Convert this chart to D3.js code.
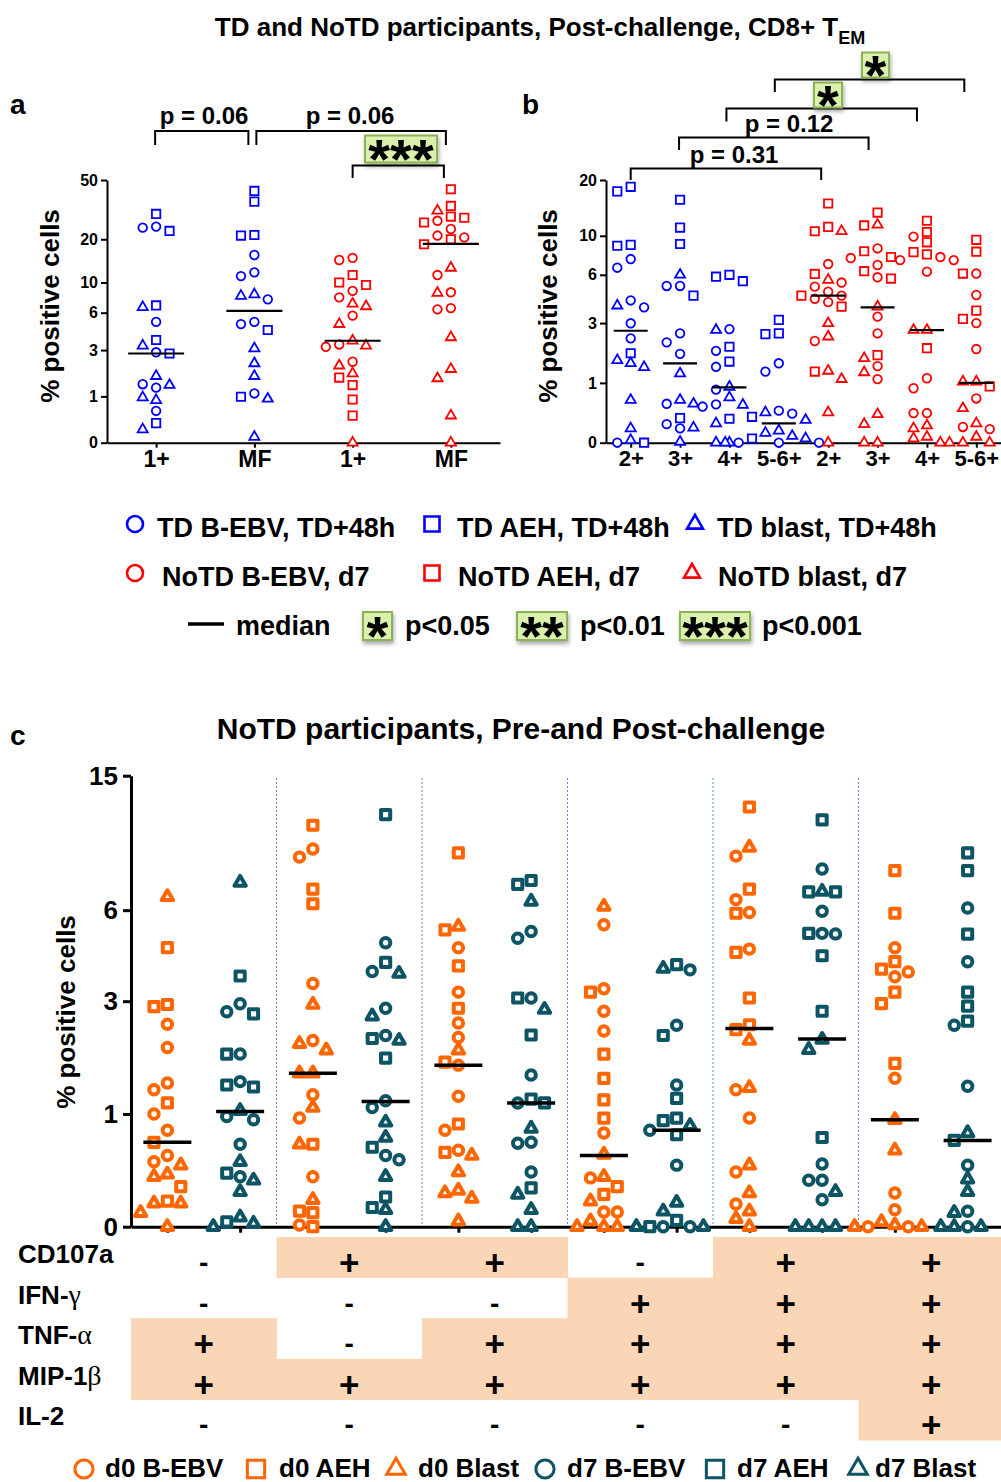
<!DOCTYPE html>
<html>
<head>
<meta charset="utf-8">
<script src="https://cdn.jsdelivr.net/npm/d3@7"></script>
<style>
body { margin: 0; background: #fff; }
svg text { font-family: "Liberation Sans", Arial, sans-serif; font-weight: bold; fill: #000; }
</style>
</head>
<body>
<svg id="chart" width="1001" height="1482"></svg>
<script>
// ---- panel a: TD / NoTD, 1+ and MF ----
var aCats = ["1+", "MF", "1+", "MF"];
var aGroups = ["TD", "TD", "NoTD", "NoTD"];
var aEbv = [[24.4, 24, 5.1, 2.87, 1.4, 1.28, 0.61], [15.6, 11.8, 11.1, 7.55, 5.1, 4.9, 1.09],
            [14.9, 14.4, 8.7, 7.8, 5.7, 3.35, 3.2, 2.36], [26.7, 23.5, 21.2, 20.6, 11.3, 8.5, 6.5, 6.36]];
var aAeh = [[29.7, 22.8, 6.8, 3.65, 2.8, 0.34], [42.3, 35.9, 21.4, 21.2, 4.4, 0.99],
            [11.3, 10, 9.6, 1.65, 1.37, 0.91, 0.5], [43.4, 33.6, 28.5, 28, 26, 20, 18.5]];
var aBlast = [[6.6, 3.27, 1.71, 1.37, 0.97, 0.89, 0.22], [8.2, 8, 3.1, 2.28, 1.71, 0.93, 0.09],
              [7, 6.7, 4.9, 3.6, 3.27, 2.17, 1.82, 0], [31.2, 12.7, 8.4, 3.84, 2.01, 1.62, 0.5, 0]];
var aMedian = [2.8, 6.2, 3.6, 18.6];
var aTicks = [0, 1, 3, 6, 10, 20, 50];

// ---- panel b: 2+ .. 5-6+ ----
var bCats = ["2+", "3+", "4+", "5-6+", "2+", "3+", "4+", "5-6+"];
var bGroups = ["TD", "TD", "TD", "TD", "NoTD", "NoTD", "NoTD", "NoTD"];
var bEbv = [[7.4, 6.6, 4.2, 3.8, 2.99, 2.35, 0], [5.15, 5.15, 2.55, 2.2, 1.8, 0.57, 0.24, 0.18],
            [2.73, 1.9, 1.41, 0.85, 0.56, 0.52], [1.51, 1.28, 0.45, 0.4, 0, 0, 0],
            [6.93, 5.4, 5.1, 4.75, 4.5, 4.3, 4.1, 2.25], [8.5, 7.5, 6.84, 5.8, 3.31, 2.55, 1.43, 1.09],
            [9.9, 7.6, 7.3, 7.3, 6.26, 1.11, 0.88, 0.41, 0.41], [6.1, 4.54, 3, 1.96, 0.67, 0.2, 0.17]];
var bAeh = [[18.4, 17.4, 8.9, 8.8, 1.82, 0], [15.7, 11.1, 9, 4.5, 0.33],
            [6, 5.85, 5.5, 2.04, 1.56, 0.32], [3.15, 2.55, 2.52, 0.35, 0.05],
            [15, 11.2, 10.6, 6.07, 4.5, 3.84, 1.28], [13.4, 11.4, 8.2, 7.6, 6.3, 5.7, 1.76],
            [12.1, 10.5, 9.2, 8.1, 7.87, 1.99], [9.5, 8.15, 6.1, 3.62, 3.2, 0.92]];
var bBlast = [[3.9, 1.6, 1.51, 1.4, 0.64, 0.18, 0.03], [6, 1.23, 0.64, 0.57, 0.19, 0.01],
              [2.69, 0.91, 0.69, 0.55, 0.25, 0, 0], [0.42, 0.3, 0.15, 0.12, 0.08, 0.05, 0],
              [10.6, 5.6, 2.99, 2.42, 1.3, 1.09, 0.42, 0], [11.5, 3.84, 1.66, 1.26, 0.39, 0.24, 0, 0],
              [2.69, 2.69, 0.22, 0.18, 0.07, 0.05, 0], [1.03, 1.03, 0.49, 0.25, 0.07, 0, 0, 0]];
var bMedian = [2.66, 1.51, 0.9, 0.25, 4.5, 3.8, 2.69, 1.0];
var bTicks = [0, 1, 3, 6, 10, 20];

// ---- panel c: NoTD, d0 vs d7, by function pattern ----
var cDays = ["d0", "d7", "d0", "d7", "d0", "d7", "d0", "d7", "d0", "d7", "d0", "d7"];
var cEbv = [[2.47, 2.01, 1.42, 1.32, 1.0, 0.81, 0.55, 0.49], [2.94, 2.75, 1.89, 1.44, 0.97, 0.93, 0.66, 0.36],
            [9.2, 8.7, 3.46, 2.14, 1.25, 0.95, 0.36, 0.01], [4.73, 3.8, 2.83, 2.24, 1.17, 1.08, 0.55, 0.51],
            [4.56, 3.23, 2.5, 2.2, 1.7, 1.23, 0.81, 0.6], [5.14, 4.89, 3.08, 1.54, 1.14, 0.68, 0.67, 0.4],
            [5.4, 3.32, 2.76, 2.33, 0.78, 0.35, 0.095, 0.095], [3.85, 2.45, 1.39, 0.81, 0.46, 0, 0],
            [8.76, 6.47, 5.9, 4.51, 1.32, 0.95, 0.4, 0.15], [8.02, 5.95, 5.07, 5.05, 0.47, 0.33, 0.33, 0.18],
            [4.56, 3.79, 3.65, 1.49, 0.23, 0.11, 0, 0], [6.09, 4.1, 2.45, 1.37, 0.46, 0.1, 0]];
var cAeh = [[4.56, 2.92, 2.87, 1.14, 0.68, 0.28, 0.17], [3.67, 2.7, 1.89, 1.39, 1.36, 0.39, 0.03],
            [10.8, 6.97, 6.28, 0.66, 0.1, 0.09, 0], [11.6, 4.08, 2.18, 1.82, 0.63, 0.2, 0.125],
            [8.96, 5.2, 3.97, 2.83, 1.75, 0.88, 0.58], [7.4, 7.2, 3.08, 2.25, 1.19, 1.14, 0.27],
            [3.23, 1.89, 1.49, 1.18, 0.95, 0.28, 0.22], [4.01, 2.24, 1.2, 0.95, 0.92, 0.76, 0.04, 0],
            [12.2, 6.97, 5.87, 4.4, 3.08, 2.46, 2.36], [11.2, 6.83, 6.83, 5.07, 4.29, 2.76, 0.73],
            [7.93, 5.87, 4.1, 3.87, 3.23, 2.94, 1.73], [8.96, 7.93, 5.04, 3.23, 2.88, 2.54, 0.7]];
var cBlast = [[6.6, 0.46, 0.38, 0.36, 0.155, 0.155, 0.09, 0], [7.3, 1.04, 0.49, 0.33, 0.24, 0.06, 0.02, 0],
              [2.92, 2.08, 1.96, 1.57, 1.57, 1.08, 0.66, 0.18], [3.74, 2.65, 2.14, 0.9, 0.73, 0.36, 0.11, 0],
              [5.33, 1.96, 0.55, 0.4, 0.25, 0.23, 0.19, 0.035], [6.39, 2.8, 0.83, 0.22, 0.11, 0, 0],
              [6.16, 0.56, 0.36, 0.17, 0.035, 0, 0, 0], [3.89, 0.86, 0.16, 0.1, 0, 0],
              [9.3, 2.14, 1.35, 0.46, 0.23, 0.1, 0.05, 0], [6.85, 2.16, 1.97, 0.24, 0, 0, 0, 0],
              [0.93, 0.6, 0.03, 0.01, 0, 0], [0.78, 0.34, 0.24, 0.09, 0, 0, 0]];
var cMedian = [0.68, 1.03, 1.57, 1.16, 1.7, 1.14, 0.55, 0.81, 2.38, 2.17, 0.93, 0.7];
var cTicks = [0, 1, 3, 6, 15];

// function table under panel c (one entry per d0/d7 pair)
var cRowLabels = ["CD107a", "IFN-γ", "TNF-α", "MIP-1β", "IL-2"];
var cCD107a = ["-", "+", "+", "-", "+", "+"];
var cIFNg = ["-", "-", "-", "+", "+", "+"];
var cTNFa = ["+", "-", "+", "+", "+", "+"];
var cMIP1b = ["+", "+", "+", "+", "+", "+"];
var cIL2 = ["-", "-", "-", "-", "-", "+"];

var colTD = "#0000ff", colNoTD = "#ff0000", colD0 = "#ff6600", colD7 = "#0d5465";

var svg = d3.select("#chart");

// drop shadow for the significance boxes
var defs = svg.append("defs");
var f = defs.append("filter").attr("id", "shadow").attr("x", "-30%").attr("y", "-30%").attr("width", "160%").attr("height", "180%");
f.append("feDropShadow").attr("dx", 1).attr("dy", 3).attr("stdDeviation", 2).attr("flood-color", "#000").attr("flood-opacity", 0.35);

var symbolTypes = { circle: d3.symbolCircle, square: d3.symbolSquare, triangle: d3.symbolTriangle };
function symPath(shape, size) {
    return d3.symbol().type(symbolTypes[shape]).size(size)();
}

// spread points sideways so they don't sit on top of each other
function dodge(pts, y, cx, step, box) {
    var placed = [];
    pts.sort(function(a, b){ return b.v - a.v; });
    pts.forEach(function(p){
        p.y = y(p.v);
        for (var k = 0; k < 20; k++) {
            var off = k == 0 ? 0 : (k % 2 ? -Math.ceil(k / 2) : Math.ceil(k / 2));
            var x = cx + off * step;
            var hit = placed.some(function(q){
                return Math.abs(q.x - x) < box && Math.abs(q.y - p.y) < box;
            });
            if (!hit) { p.x = x; break; }
        }
        if (p.x === undefined) p.x = cx;
        placed.push(p);
    });
    return pts;
}

function drawDots(g, o) {
    o.cats.forEach(function(c, i){
        var pts = [];
        o.series.forEach(function(s){
            s.data[i].forEach(function(v){ pts.push({ v: v, shape: s.shape }); });
        });
        dodge(pts, o.y, o.x(i), o.step, o.box);
        g.append("g").selectAll("path").data(pts).enter().append("path")
            .attr("d", function(d){ return symPath(d.shape, o.sizes[d.shape]); })
            .attr("transform", function(d){ return "translate(" + d.x + "," + d.y + ")"; })
            .attr("fill", "#fff")
            .attr("stroke", o.color(i))
            .attr("stroke-width", o.sw)
            .attr("stroke-linejoin", o.join || "miter");
    });
    // medians on top
    g.append("g").selectAll("line").data(o.medians).enter().append("line")
        .attr("x1", function(d, i){ return o.x(i) - o.medW / 2; })
        .attr("x2", function(d, i){ return o.x(i) + o.medW / 2; })
        .attr("y1", function(d){ return o.y(d); })
        .attr("y2", function(d){ return o.y(d); })
        .attr("stroke", "#000").attr("stroke-width", o.medSW);
}

function styleAxis(ax, sw, fs) {
    ax.selectAll("path, line").attr("stroke", "#000").attr("stroke-width", sw);
    ax.selectAll("text").style("font-size", fs + "px").attr("fill", "#000");
}

function bracket(g, x1, x2, yTop, yLeg) {
    g.append("path")
        .attr("d", "M" + x1 + "," + yLeg + "V" + yTop + "H" + x2 + "V" + yLeg)
        .attr("fill", "none").attr("stroke", "#000").attr("stroke-width", 2);
}

function sigBox(g, cx, cy, w, h, n) {
    g.append("rect").attr("x", cx - w / 2).attr("y", cy - h / 2).attr("width", w).attr("height", h)
        .attr("fill", "#d9f1ad").attr("stroke", "#8db157").attr("stroke-width", 2)
        .attr("filter", "url(#shadow)");
    g.append("text").attr("x", cx).attr("y", cy + 29).attr("text-anchor", "middle")
        .style("font-size", "56px")
        .text("*".repeat(n));
}

function yLabel(x, y) {
    svg.append("text").attr("transform", "translate(" + x + "," + y + ") rotate(-90)")
        .attr("text-anchor", "middle").style("font-size", "26px").text("% positive cells");
}

// ---- titles ----
var title = svg.append("text").attr("x", 540).attr("y", 36).attr("text-anchor", "middle").style("font-size", "26px");
title.append("tspan").text("TD and NoTD participants, Post-challenge, CD8+ T");
title.append("tspan").attr("dy", 8).style("font-size", "18px").text("EM");

svg.append("text").attr("x", 10).attr("y", 114).style("font-size", "28px").text("a");
svg.append("text").attr("x", 522).attr("y", 114).style("font-size", "28px").text("b");
svg.append("text").attr("x", 10).attr("y", 745).style("font-size", "28px").text("c");

// ---- panel a ----
var xa = d3.scalePoint().domain(d3.range(aCats.length)).range([107, 500]).padding(0.5);
var ya = d3.scaleSymlog().constant(1).domain([0, 50]).range([442.7, 180]);
var gA = svg.append("g");
var axA = gA.append("g").attr("transform", "translate(107,0)")
    .call(d3.axisLeft(ya).tickValues(aTicks).tickFormat(d3.format("d")).tickSize(6).tickSizeOuter(0));
styleAxis(axA, 2, 16);
var axAx = gA.append("g").attr("transform", "translate(0,442.7)")
    .call(d3.axisBottom(xa).tickFormat(function(i){ return aCats[i]; }).tickSize(5).tickSizeOuter(0));
styleAxis(axAx, 2, 23);
drawDots(gA, {
    cats: aCats, medians: aMedian, x: xa, y: ya,
    series: [{ shape: "circle", data: aEbv }, { shape: "square", data: aAeh }, { shape: "triangle", data: aBlast }],
    color: function(i){ return aGroups[i] == "TD" ? colTD : colNoTD; },
    sizes: { circle: 58, square: 70, triangle: 44 }, sw: 1.8, step: 6.7, box: 10,
    medW: 56, medSW: 2.2
});
yLabel(59, 306);

bracket(gA, xa(0) - 1, xa(1) - 6, 131, 145);
bracket(gA, xa(1) + 2, xa(3) - 5, 131, 145);
bracket(gA, xa(2), xa(3) - 7, 165.5, 178);
gA.append("text").attr("x", 204).attr("y", 124).attr("text-anchor", "middle").style("font-size", "24px").text("p = 0.06");
gA.append("text").attr("x", 350).attr("y", 124).attr("text-anchor", "middle").style("font-size", "24px").text("p = 0.06");
sigBox(gA, 401, 149, 72, 27, 3);

// ---- panel b ----
var xb = d3.scalePoint().domain(d3.range(bCats.length)).range([606, 1001]).padding(0.5);
var yb = d3.scaleSymlog().constant(1).domain([0, 20]).range([442.7, 180]);
var gB = svg.append("g");
var axB = gB.append("g").attr("transform", "translate(606,0)")
    .call(d3.axisLeft(yb).tickValues(bTicks).tickFormat(d3.format("d")).tickSize(6).tickSizeOuter(0));
styleAxis(axB, 2, 16);
var axBx = gB.append("g").attr("transform", "translate(0,442.7)")
    .call(d3.axisBottom(xb).tickFormat(function(i){ return bCats[i]; }).tickSize(5).tickSizeOuter(0));
styleAxis(axBx, 2, 22);
drawDots(gB, {
    cats: bCats, medians: bMedian, x: xb, y: yb,
    series: [{ shape: "circle", data: bEbv }, { shape: "square", data: bAeh }, { shape: "triangle", data: bBlast }],
    color: function(i){ return bGroups[i] == "TD" ? colTD : colNoTD; },
    sizes: { circle: 58, square: 70, triangle: 44 }, sw: 1.8, step: 6.7, box: 10,
    medW: 34, medSW: 2.2
});
yLabel(557, 306);

bracket(gB, xb(0), xb(4) - 7, 168.5, 180);
bracket(gB, xb(1) - 1, xb(5) - 9, 137.5, 150);
bracket(gB, xb(2) - 3, xb(6) - 10, 108.5, 121.5);
bracket(gB, xb(3) - 4, xb(7) - 12, 79.5, 92);
gB.append("text").attr("x", 734).attr("y", 163).attr("text-anchor", "middle").style("font-size", "24px").text("p = 0.31");
gB.append("text").attr("x", 789).attr("y", 132).attr("text-anchor", "middle").style("font-size", "24px").text("p = 0.12");
sigBox(gB, 828, 95, 28, 25, 1);
sigBox(gB, 875.5, 65, 27, 25, 1);

// ---- legend a/b ----
var legAB = [
    { shape: "circle", color: colTD, x: 135, tx: 157, y: 527, label: "TD B-EBV, TD+48h" },
    { shape: "square", color: colTD, x: 432, tx: 457, y: 527, label: "TD AEH, TD+48h" },
    { shape: "triangle", color: colTD, x: 695, tx: 717, y: 527, label: "TD blast, TD+48h" },
    { shape: "circle", color: colNoTD, x: 135, tx: 162, y: 576, label: "NoTD B-EBV, d7" },
    { shape: "square", color: colNoTD, x: 432, tx: 458, y: 576, label: "NoTD AEH, d7" },
    { shape: "triangle", color: colNoTD, x: 692, tx: 718, y: 576, label: "NoTD blast, d7" }
];
var legSize = { circle: 200, square: 225, triangle: 110 };
var gL = svg.append("g");
legAB.forEach(function(d){
    gL.append("path").attr("d", symPath(d.shape, legSize[d.shape]))
        .attr("transform", "translate(" + d.x + "," + (d.y - 3) + ")")
        .attr("fill", "none").attr("stroke", d.color).attr("stroke-width", 2.6);
    gL.append("text").attr("x", d.tx).attr("y", d.y + 10).style("font-size", "27px").text(d.label);
});
gL.append("line").attr("x1", 188).attr("x2", 224).attr("y1", 624).attr("y2", 624).attr("stroke", "#000").attr("stroke-width", 3.5);
gL.append("text").attr("x", 236).attr("y", 635).style("font-size", "27px").text("median");
sigBox(gL, 377.5, 626, 29, 28, 1);
gL.append("text").attr("x", 405).attr("y", 635).style("font-size", "27px").text("p<0.05");
sigBox(gL, 542, 626, 50, 28, 2);
gL.append("text").attr("x", 580).attr("y", 635).style("font-size", "27px").text("p<0.01");
sigBox(gL, 715, 626, 70, 28, 3);
gL.append("text").attr("x", 762).attr("y", 635).style("font-size", "27px").text("p<0.001");

// ---- panel c ----
svg.append("text").attr("x", 521).attr("y", 739).attr("text-anchor", "middle").style("font-size", "30px")
    .text("NoTD participants, Pre-and Post-challenge");

var xc = d3.scalePoint().domain(d3.range(cDays.length)).range([131, 1004]).padding(0.5);
var yc = d3.scaleSymlog().constant(1).domain([0, 15]).range([1226.7, 775.7]);
var stepC = xc.step();
var gC = svg.append("g");

// function table shading
var cRows = [cCD107a, cIFNg, cTNFa, cMIP1b, cIL2];
var rowBand = d3.scaleBand().domain(d3.range(cRowLabels.length)).range([1237, 1440]);
function grpLeft(gi){ return xc(2 * gi) - stepC / 2; }
function grpRight(gi){ return gi == 5 ? 1001 : xc(2 * gi + 1) + stepC / 2; }
cRows.forEach(function(row, r){
    row.forEach(function(s, gi){
        if (s == "+") {
            gC.append("rect").attr("x", grpLeft(gi)).attr("y", rowBand(r))
                .attr("width", grpRight(gi) - grpLeft(gi) + 0.5).attr("height", rowBand.bandwidth() + 0.5)
                .attr("fill", "#fad5b6");
        }
    });
});
cRows.forEach(function(row, r){
    row.forEach(function(s, gi){
        var cx = (xc(2 * gi) + xc(2 * gi + 1)) / 2;
        var cy = rowBand(r) + 26;
        gC.append("text").attr("x", cx).attr("y", cy + (s == "+" ? 12 : 9)).attr("text-anchor", "middle")
            .style("font-size", s == "+" ? "35px" : "28px").text(s);
    });
});
cRowLabels.forEach(function(lab, r){
    var t = gC.append("text").attr("x", 18).attr("y", rowBand(r) + 26).style("font-size", "26px");
    var m = lab.match(/^(.*-)([γαβ])$/) || lab.match(/^(.*)(β)$/);
    if (m) {
        t.append("tspan").text(m[1]);
        t.append("tspan").style("font-family", "'Liberation Serif', serif").style("font-weight", "normal")
            .style("font-size", "28px").text(m[2]);
    } else {
        t.text(lab);
    }
});

// dotted separators between pairs
d3.range(1, 6).forEach(function(gi){
    var x = xc(2 * gi) - stepC / 2;
    gC.append("line").attr("x1", x).attr("x2", x).attr("y1", 778).attr("y2", 1226)
        .attr("stroke", "#5b8dd6").attr("stroke-width", 1).attr("stroke-dasharray", "2,2");
});

var axC = gC.append("g").attr("transform", "translate(131,0)")
    .call(d3.axisLeft(yc).tickValues(cTicks).tickFormat(d3.format("d")).tickSize(8).tickSizeOuter(0).tickPadding(5));
styleAxis(axC, 3, 26);
var axCx = gC.append("g").attr("transform", "translate(0,1226.7)")
    .call(d3.axisBottom(xc).tickFormat("").tickSize(6).tickSizeOuter(0));
styleAxis(axCx, 3, 12);

drawDots(gC, {
    cats: cDays, medians: cMedian, x: xc, y: yc,
    series: [{ shape: "circle", data: cEbv }, { shape: "square", data: cAeh }, { shape: "triangle", data: cBlast }],
    color: function(i){ return cDays[i] == "d0" ? colD0 : colD7; },
    sizes: { circle: 70, square: 84, triangle: 56 }, sw: 4, step: 6.7, box: 12.5, join: "round",
    medW: 48, medSW: 3.5
});
yLabel(75, 1012);

// ---- legend c ----
var legC = [
    { shape: "circle", color: colD0, x: 84, tx: 105, label: "d0 B-EBV" },
    { shape: "square", color: colD0, x: 256, tx: 279, label: "d0 AEH" },
    { shape: "triangle", color: colD0, x: 396, tx: 418, label: "d0 Blast" },
    { shape: "circle", color: colD7, x: 545, tx: 567, label: "d7 B-EBV" },
    { shape: "square", color: colD7, x: 715, tx: 737, label: "d7 AEH" },
    { shape: "triangle", color: colD7, x: 858, tx: 875, label: "d7 Blast" }
];
var legCSize = { circle: 260, square: 300, triangle: 150 };
legC.forEach(function(d){
    svg.append("path").attr("d", symPath(d.shape, legCSize[d.shape]))
        .attr("transform", "translate(" + d.x + ",1469)")
        .attr("fill", "none").attr("stroke", d.color).attr("stroke-width", 3);
    svg.append("text").attr("x", d.tx).attr("y", 1477).style("font-size", "26px").text(d.label);
});
</script>
</body>
</html>
